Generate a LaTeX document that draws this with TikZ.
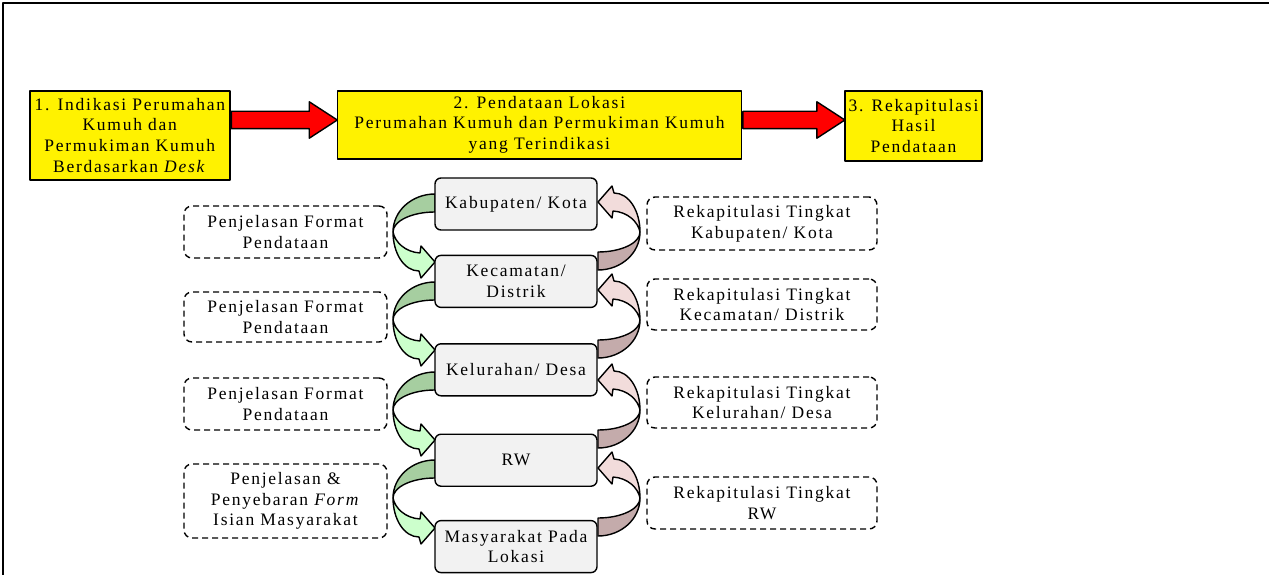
\documentclass[tikz,border=0pt]{standalone}
\usepackage{fontspec}
\setmainfont{Liberation Serif}[LetterSpace=10]
\usetikzlibrary{positioning,shapes.arrows,calc}

\definecolor{sage}{RGB}{166,206,160}
\definecolor{mint}{RGB}{204,255,204}
\definecolor{rose}{RGB}{242,220,219}
\definecolor{mauve}{RGB}{196,171,171}
\definecolor{boxgray}{RGB}{242,242,242}

\begin{document}
\begin{tikzpicture}[x=1pt,y=-1pt,line join=round,
    font=\fontsize{17.5}{20.7}\selectfont,
    stage/.style={draw,line width=1.6pt,fill=yellow,align=center,inner sep=1pt,anchor=north west},
    level/.style={draw,line width=1.4pt,rounded corners=6pt,fill=boxgray,align=center,
      minimum width=162pt,minimum height=52pt,inner sep=1pt},
    note/.style={draw,line width=1.4pt,dash pattern=on 6pt off 4pt,rounded corners=8pt,
      align=center,inner sep=1pt},
    fat/.style={single arrow,draw,line width=1.4pt,fill=red,minimum width=35pt,inner sep=8pt,
      single arrow head extend=9.5pt,single arrow tip angle=66,anchor=west},
    curlback/.style={},curlfront/.style={},
    curl/.pic={
      \filldraw[line width=1.4pt,curlback] (42,-38) .. controls (18.8,-38) and (0,-21) .. (0,0)
        .. controls (0,-11) and (18.8,-20) .. (42,-20) -- cycle;
      \filldraw[line width=1.4pt,curlfront] (0,0) .. controls (0,21) and (11,39) .. (26,39)
        -- (28,46) -- (42,30) -- (28,14) -- (27,21) .. controls (12,20) and (2,10) .. (0,0) -- cycle;
    }]
  \useasboundingbox (0,0) rectangle (1269,575);
  \draw[line width=2pt] (3,575) -- (3,3) -- (1269,3);

  % curved arrows between the levels
  \foreach \y in {232,320,410,498} {
    \pic[curlback/.style={fill=sage},curlfront/.style={fill=mint}] at (393,\y) {curl};
    \pic[rotate=180,curlback/.style={fill=mauve},curlfront/.style={fill=rose}] at (640,\y) {curl};
  }

  % main steps
  \node[stage,minimum width=200pt,minimum height=89pt] (b1) at (29,90)
    {1. Indikasi Perumahan\\Kumuh dan\\Permukiman Kumuh\\Berdasarkan \textit{Desk}};
  \node[stage,minimum width=404pt,minimum height=68pt] (b2) [right=106pt of b1.north east,anchor=north west]
    {2. Pendataan Lokasi\\Perumahan Kumuh dan Permukiman Kumuh\\yang Terindikasi};
  \node[stage,minimum width=137pt,minimum height=70pt] (b3) [right=102pt of b2.north east,anchor=north west]
    {3. Rekapitulasi\\Hasil\\Pendataan};
  \node[fat,minimum height=106pt] (a1) at ($(b1.north east)+(0,30)$) {};
  \node[fat,minimum height=102pt] (a2) at ($(b2.north east)+(0,30)$) {};

  % levels
  \node[level] (kab) at (516,204) {Kabupaten/ Kota};
  \node[level] (kec) [below=24pt of kab] {Kecamatan/\\Distrik};
  \node[level] (kel) [below=35pt of kec] {Kelurahan/ Desa};
  \node[level] (rw) [below=37pt of kel] {RW};
  \node[level] (mas) [below=33pt of rw] {Masyarakat Pada\\Lokasi};

  % notes
  \node[note,minimum width=203pt,minimum height=52pt] (pkab) at (285.5,232) {Penjelasan Format\\Pendataan};
  \node[note,minimum width=203pt,minimum height=50pt] (pkec) at (285.5,317) {Penjelasan Format\\Pendataan};
  \node[note,minimum width=203pt,minimum height=52pt] (pkel) at (285.5,404) {Penjelasan Format\\Pendataan};
  \node[note,minimum width=203pt,minimum height=74pt] (prw) at (285.5,501)
    {Penjelasan \&\\Penyebaran \textit{Form}\\Isian Masyarakat};
  \node[note,minimum width=230pt,minimum height=53pt] (rkab) at (762,223.5) {Rekapitulasi Tingkat\\Kabupaten/ Kota};
  \node[note,minimum width=230pt,minimum height=51pt] (rkec) at (762,304.5) {Rekapitulasi Tingkat\\Kecamatan/ Distrik};
  \node[note,minimum width=230pt,minimum height=51pt] (rkel) at (762,402.5) {Rekapitulasi Tingkat\\Kelurahan/ Desa};
  \node[note,minimum width=230pt,minimum height=52pt] (rrw) at (762,503) {Rekapitulasi Tingkat\\RW};
\end{tikzpicture}
\end{document}
